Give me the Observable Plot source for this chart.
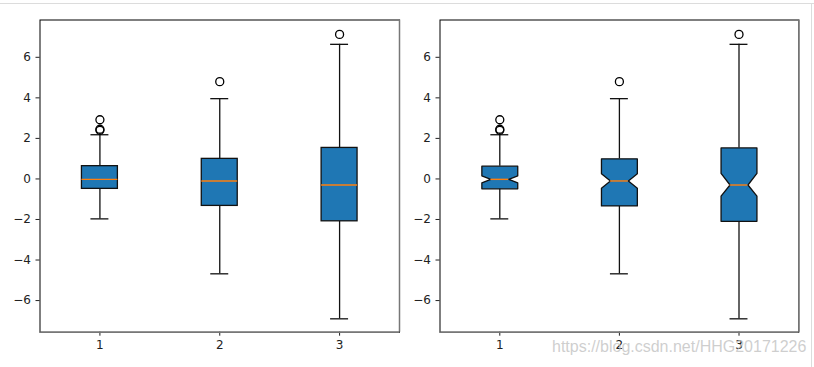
<!DOCTYPE html>
<html>
<head>
<meta charset="utf-8">
<script src="https://cdn.jsdelivr.net/npm/d3@7"></script>
<script src="https://cdn.jsdelivr.net/npm/@observablehq/plot@0.6"></script>
<style>
  html, body { margin: 0; padding: 0; background: white; }
  #wrap { position: relative; width: 814px; height: 367px; overflow: hidden; }
  #charts { display: flex; }
  .topline { position: absolute; left: 0; top: 3px; width: 814px; height: 1px; background: #dcdcdc; }
  .rightline { position: absolute; left: 811px; top: 3px; width: 1px; height: 364px; background: #dcdcdc; }
  .wm { position: absolute; left: 552px; top: 338px; font: 16px "Liberation Sans", Arial, sans-serif; color: rgba(190,190,190,0.75); white-space: nowrap; }
</style>
</head>
<body>
<div id="wrap">
  <div id="charts"></div>
  <div class="topline"></div>
  <div class="rightline"></div>
  <div class="wm">https://blog.csdn.net/HHG20171226</div>
</div>
<script>
// Box-plot summary statistics
const positions   = [1, 2, 3];
const q1          = [-0.49, -1.33, -2.09];
const median      = [-0.02, -0.10, -0.30];
const q3          = [0.63, 0.99, 1.53];
const whiskerLow  = [-1.97, -4.68, -6.90];
const whiskerHigh = [2.18, 3.96, 6.64];
const notchLow    = [-0.19, -0.46, -0.85];
const notchHigh   = [0.15, 0.26, 0.27];
const outliers    = [[2.92, 2.45, 2.40], [4.80], [7.13]];
const xTicks = [1, 2, 3];
const yTicks = [-6, -4, -2, 0, 2, 4, 6];

const halfW = 0.15;   // box half width (x units)
const capW = 0.075;   // cap / notch waist half width

const boxes = positions.map((p, i) => ({
  p, q1: q1[i], med: median[i], q3: q3[i],
  lo: whiskerLow[i], hi: whiskerHigh[i],
  nlo: notchLow[i], nhi: notchHigh[i]
}));
const fliers = positions.flatMap((p, i) => outliers[i].map(v => ({p, v})));

const notchPoly = boxes.flatMap((b, i) => [
  [b.p - halfW, b.q1], [b.p - halfW, b.nlo], [b.p - capW, b.med], [b.p - halfW, b.nhi],
  [b.p - halfW, b.q3], [b.p + halfW, b.q3], [b.p + halfW, b.nhi], [b.p + capW, b.med],
  [b.p + halfW, b.nlo], [b.p + halfW, b.q1]
].map(([x, y]) => ({box: i, x, y})));

const minus = d => d < 0 ? "\u2212" + (-d) : String(d);
const yDomain = [-7.56, 7.84];
const lw = 1.3;

function chart(notched, width, marginLeft, marginRight) {
  const marks = [
    Plot.ruleX(boxes, {x: "p", y1: "q3", y2: "hi", stroke: "#111", strokeWidth: lw}),
    Plot.ruleX(boxes, {x: "p", y1: "q1", y2: "lo", stroke: "#111", strokeWidth: lw}),
    Plot.ruleY(boxes, {y: "hi", x1: d => d.p - capW, x2: d => d.p + capW, stroke: "#111", strokeWidth: lw}),
    Plot.ruleY(boxes, {y: "lo", x1: d => d.p - capW, x2: d => d.p + capW, stroke: "#111", strokeWidth: lw}),
  ];
  if (notched) {
    marks.push(Plot.line(notchPoly, {x: "x", y: "y", z: "box", curve: "linear-closed",
      fill: "#1f77b4", stroke: "#111", strokeWidth: lw}));
    marks.push(Plot.ruleY(boxes, {y: "med", x1: d => d.p - capW, x2: d => d.p + capW, stroke: "#ff7f0e", strokeWidth: 1.4}));
  } else {
    marks.push(Plot.rect(boxes, {x1: d => d.p - halfW, x2: d => d.p + halfW, y1: "q1", y2: "q3",
      fill: "#1f77b4", stroke: "#111", strokeWidth: lw}));
    marks.push(Plot.ruleY(boxes, {y: "med", x1: d => d.p - halfW, x2: d => d.p + halfW, stroke: "#ff7f0e", strokeWidth: 1.4}));
  }
  marks.push(Plot.dot(fliers, {x: "p", y: "v", r: 4, stroke: "black", fill: "none", strokeWidth: 1.3}));
  marks.push(Plot.frame({stroke: "black", strokeWidth: 1}));
  marks.push(Plot.ruleY([yDomain[0]], {stroke: "#777", strokeWidth: 1.5}));
  marks.push(Plot.ruleX([3.5], {stroke: "#777", strokeWidth: 1.5}));
  return Plot.plot({
    width, height: 367,
    marginLeft, marginRight, marginTop: 19.5, marginBottom: 35.3,
    style: {fontFamily: "DejaVu Sans", fontSize: "12px", color: "#222", background: "white", overflow: "visible"},
    x: {domain: [0.5, 3.5], ticks: xTicks, tickSize: 4, tickPadding: 4, label: null, tickFormat: d => String(d)},
    y: {domain: yDomain, ticks: yTicks, tickSize: 4, tickPadding: 5, label: null, tickFormat: minus},
    marks
  });
}

const host = document.getElementById("charts");
host.appendChild(chart(false, 405, 39.5, 6));
host.appendChild(chart(true, 409, 34.5, 15.7));
</script>
</body>
</html>
